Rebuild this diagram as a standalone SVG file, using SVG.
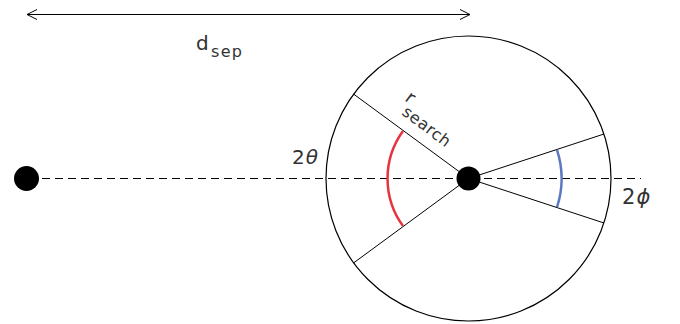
<svg xmlns="http://www.w3.org/2000/svg" width="680" height="324" viewBox="0 0 680 324">
<style>
.ln{stroke:#000;stroke-width:1;fill:none}
.dash{stroke:#000;stroke-width:1;stroke-dasharray:8 5;fill:none}
.lbl{font-family:"DejaVu Sans",sans-serif;fill:#333}
.dot{fill:#000}
</style>
<defs>
<marker id="open" viewBox="0 0 12 12" refX="11" refY="6" markerWidth="12" markerHeight="12" markerUnits="userSpaceOnUse" orient="auto-start-reverse">
<path d="M1,1 L11,6 L1,11" fill="none" stroke="#000" stroke-width="1"/>
</marker>
</defs>
<rect width="680" height="324" fill="#fff"/>
<g id="connectors">
<line class="ln" x1="27" y1="14.5" x2="470" y2="14.5" marker-start="url(#open)" marker-end="url(#open)"/>
<line class="dash" x1="42" y1="178.5" x2="641" y2="178.5"/>
<line class="ln" x1="468.5" y1="178.5" x2="353.5" y2="94"/>
<line class="ln" x1="468.5" y1="178.5" x2="353.5" y2="263"/>
<line class="ln" x1="468.5" y1="178.5" x2="604" y2="134"/>
<line class="ln" x1="468.5" y1="178.5" x2="604" y2="223"/>
<path d="M403,130.9 A81,81 0 0 0 403,226.1" fill="none" stroke="#e8343f" stroke-width="2.5"/>
<path d="M557,149.8 A93,93 0 0 1 557,207.2" fill="none" stroke="#5b78c0" stroke-width="2.5"/>
</g>
<g id="search-circle">
<circle cx="468.5" cy="178.5" r="142.5" fill="none" stroke="#000" stroke-width="1.2"/>
</g>
<g id="left-source">
<circle class="dot" cx="26.5" cy="178.5" r="12.5"/>
</g>
<g id="center-source">
<circle class="dot" cx="468.5" cy="178.5" r="12"/>
</g>
<g id="label-dsep">
<text class="lbl" x="196" y="50" font-size="20">d</text>
<text class="lbl" x="211" y="57" font-size="16" textLength="31">sep</text>
</g>
<g id="label-rsearch" transform="translate(404,100) rotate(37)">
<text class="lbl" x="0" y="0" font-size="18">r</text>
<text class="lbl" x="6" y="13" font-size="16" textLength="56">search</text>
</g>
<g id="label-2theta">
<text class="lbl" x="292" y="164" font-size="20" letter-spacing="1">2<tspan font-style="italic">θ</tspan></text>
</g>
<g id="label-2phi">
<text class="lbl" x="622" y="204" font-size="21" letter-spacing="1">2<tspan font-style="italic">ϕ</tspan></text>
</g>
</svg>
